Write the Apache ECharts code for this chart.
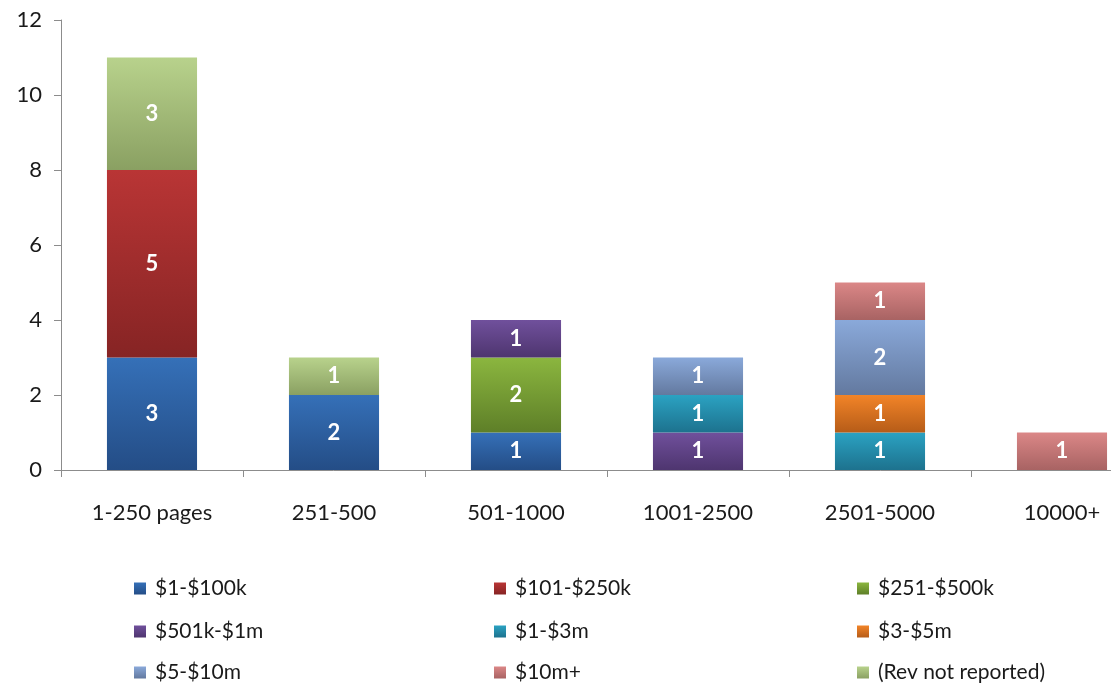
<!DOCTYPE html>
<html>
<head>
<meta charset="utf-8">
<style>
  html, body { margin: 0; padding: 0; background: #ffffff; overflow: hidden; }
  #chart { width: 1153px; height: 685px; }
</style>
<script src="https://cdn.jsdelivr.net/npm/echarts@6/dist/echarts.min.js"></script>
</head>
<body>
<div id="chart"></div>
<script>
// Page-count buckets along the x axis
const categories = ['1-250 pages', '251-500', '501-1000', '1001-2500', '2501-5000', '10000+'];

// Number of sites per revenue band in each page-count bucket
const rev1to100k    = [3, 2, 1, 0, 0, 0];
const rev101to250k  = [5, 0, 0, 0, 0, 0];
const rev251to500k  = [0, 0, 2, 0, 0, 0];
const rev501kto1m   = [0, 0, 1, 1, 0, 0];
const rev1to3m      = [0, 0, 0, 1, 1, 0];
const rev3to5m      = [0, 0, 0, 0, 1, 0];
const rev5to10m     = [0, 0, 0, 1, 2, 0];
const rev10mPlus    = [0, 0, 0, 0, 1, 1];
const revNotReported = [3, 1, 0, 0, 0, 0];

const seriesNames = ['$1-$100k', '$101-$250k', '$251-$500k', '$501k-$1m', '$1-$3m',
                     '$3-$5m', '$5-$10m', '$10m+', '(Rev not reported)'];
const seriesValues = [rev1to100k, rev101to250k, rev251to500k, rev501kto1m, rev1to3m,
                      rev3to5m, rev5to10m, rev10mPlus, revNotReported];

// Y axis ticks
const yTicks = [0, 2, 4, 6, 8, 10, 12];

// Top / bottom shades for each band's vertical gradient
const shades = [
  ['#3570b8', '#244d86'],
  ['#b93535', '#862424'],
  ['#8bb63f', '#5e7f28'],
  ['#70509c', '#4e356f'],
  ['#2ba2c2', '#1d728e'],
  ['#f28428', '#b65c18'],
  ['#8aa9da', '#63799f'],
  ['#db8787', '#a86363'],
  ['#b8d28c', '#8aa062']
];

const FONT = 'Lato, "Open Sans", sans-serif';

const series = seriesNames.map((name, i) => ({
  name: name,
  type: 'bar',
  stack: 'total',
  barWidth: '49.5%',
  data: seriesValues[i].map(v => (v === 0 ? null : v)),
  itemStyle: {
    color: new echarts.graphic.LinearGradient(0, 0, 0, 1, [
      { offset: 0, color: shades[i][0] },
      { offset: 1, color: shades[i][1] }
    ])
  },
  label: {
    show: true,
    position: 'inside',
    color: '#ffffff',
    fontFamily: FONT,
    fontWeight: 'bold',
    fontSize: 22,
    formatter: p => (p.value ? String(p.value) : '')
  },
  emphasis: { disabled: true }
}));

// Legend laid out as a 3x3 grid, filled row by row
const columnX = [134, 494, 857];
const rowY = [578, 621, 662];
const legends = seriesNames.map((name, i) => ({
  left: columnX[i % 3],
  top: rowY[Math.floor(i / 3)],
  padding: 0,
  itemWidth: 12,
  itemHeight: 12,
  itemGap: 0,
  icon: 'rect',
  selectedMode: false,
  data: [name],
  textStyle: { fontFamily: FONT, fontSize: 21, color: '#1a1a1a', padding: [0, 0, 0, 4] }
}));

const chart = echarts.init(document.getElementById('chart'), null, { renderer: 'canvas' });
chart.setOption({
  animation: false,
  backgroundColor: '#ffffff',
  grid: { left: 61, right: 0, top: 20, bottom: 215, containLabel: false },
  legend: legends,
  xAxis: {
    type: 'category',
    data: categories,
    axisLine: { lineStyle: { color: '#8c8c8c', width: 1 } },
    axisTick: { show: true, length: 7, alignWithLabel: false, lineStyle: { color: '#8c8c8c' } },
    axisLabel: { fontFamily: FONT, fontSize: 22, color: '#1a1a1a', margin: 32 }
  },
  yAxis: {
    type: 'value',
    min: yTicks[0],
    max: yTicks[yTicks.length - 1],
    interval: 2,
    axisLine: { show: true, lineStyle: { color: '#8c8c8c', width: 1 } },
    axisTick: { show: true, length: 7, lineStyle: { color: '#8c8c8c' } },
    splitLine: { show: false },
    axisLabel: { fontFamily: FONT, fontSize: 22, color: '#1a1a1a', margin: 19 }
  },
  series: series
});
</script>
</body>
</html>
